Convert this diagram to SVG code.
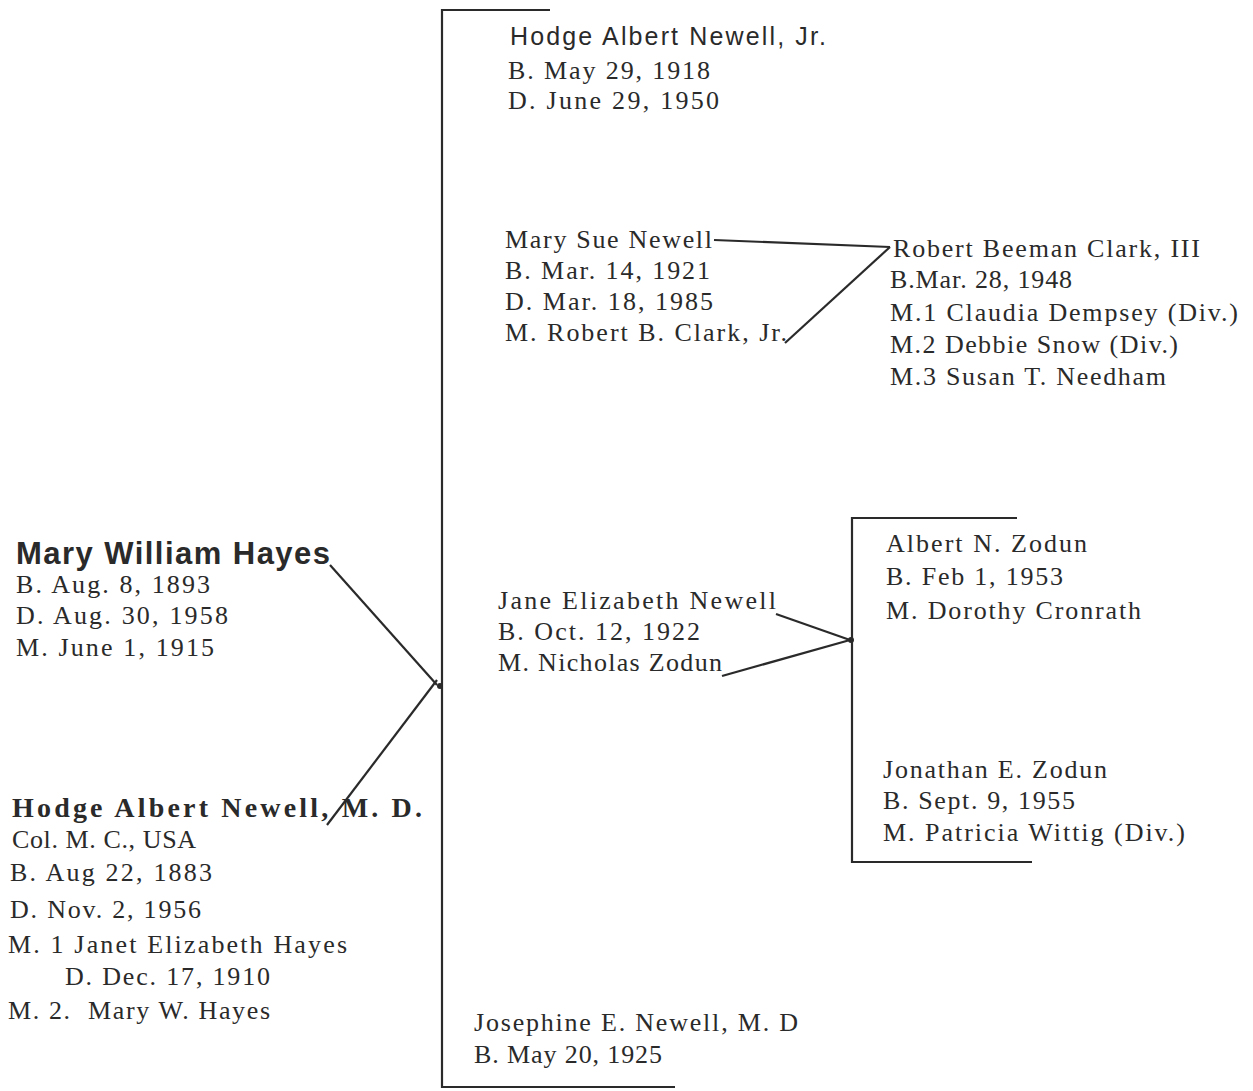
<svg xmlns="http://www.w3.org/2000/svg" width="1253" height="1091" viewBox="0 0 1253 1091">
<style>
text{font-family:"Liberation Serif","Times New Roman",serif;font-size:26px;fill:#2a2a2a}
.sans{font-family:"Liberation Sans",Arial,sans-serif}
.jr{font-size:25px}
.big{font-size:31px;font-weight:bold}
.bold{font-size:28px;font-weight:bold}
.line{stroke:#2a2a2a;stroke-width:2.2;fill:none}
</style>
<rect width="1253" height="1091" fill="#ffffff"/>
<g id="connectors">
<path class="line" d="M550,10 L442,10 L442,1087 L675,1087"/>
<path class="line" d="M330,565 L437,685"/>
<path class="line" d="M327,825 L437,680"/>
<circle cx="440" cy="686" r="3" fill="#2a2a2a"/>
<path class="line" d="M714,240 L890,247"/>
<path class="line" d="M890,247 L785,343"/>
<path class="line" d="M776,614 L850,640"/>
<path class="line" d="M722,676 L850,640"/>
<circle cx="851" cy="640" r="3" fill="#2a2a2a"/>
<path class="line" d="M1017,518 L852,518 L852,862 L1032,862"/>
</g>
<g id="hodge-jr">
<text class="sans jr" x="510" y="45" textLength="316" lengthAdjust="spacing">Hodge Albert Newell, Jr.</text>
<text x="508" y="79" textLength="202" lengthAdjust="spacing">B. May 29, 1918</text>
<text x="508" y="109" textLength="211" lengthAdjust="spacing">D. June 29, 1950</text>
</g>
<g id="mary-sue">
<text x="505" y="248" textLength="207" lengthAdjust="spacing">Mary Sue Newell</text>
<text x="505" y="279" textLength="205" lengthAdjust="spacing">B. Mar. 14, 1921</text>
<text x="505" y="310" textLength="208" lengthAdjust="spacing">D. Mar. 18, 1985</text>
<text x="505" y="341" textLength="282" lengthAdjust="spacing">M. Robert B. Clark, Jr.</text>
</g>
<g id="robert-clark">
<text x="893" y="257" textLength="307" lengthAdjust="spacing">Robert Beeman Clark, III</text>
<text x="890" y="288" textLength="182" lengthAdjust="spacing">B.Mar. 28, 1948</text>
<text x="890" y="321" textLength="348" lengthAdjust="spacing">M.1 Claudia Dempsey (Div.)</text>
<text x="890" y="353" textLength="288" lengthAdjust="spacing">M.2 Debbie Snow (Div.)</text>
<text x="890" y="385" textLength="276" lengthAdjust="spacing">M.3 Susan T. Needham</text>
</g>
<g id="mary-william-hayes">
<text class="sans big" x="16" y="564" textLength="314" lengthAdjust="spacing">Mary William Hayes</text>
<text x="16" y="593" textLength="194" lengthAdjust="spacing">B. Aug. 8, 1893</text>
<text x="16" y="624" textLength="212" lengthAdjust="spacing">D. Aug. 30, 1958</text>
<text x="16" y="656" textLength="198" lengthAdjust="spacing">M. June 1, 1915</text>
</g>
<g id="jane">
<text x="498" y="609" textLength="278" lengthAdjust="spacing">Jane Elizabeth Newell</text>
<text x="498" y="640" textLength="202" lengthAdjust="spacing">B. Oct. 12, 1922</text>
<text x="498" y="671" textLength="224" lengthAdjust="spacing">M. Nicholas Zodun</text>
</g>
<g id="albert-zodun">
<text x="886" y="552" textLength="201" lengthAdjust="spacing">Albert N. Zodun</text>
<text x="886" y="585" textLength="177" lengthAdjust="spacing">B. Feb 1, 1953</text>
<text x="886" y="619" textLength="255" lengthAdjust="spacing">M. Dorothy Cronrath</text>
</g>
<g id="jonathan-zodun">
<text x="883" y="778" textLength="224" lengthAdjust="spacing">Jonathan E. Zodun</text>
<text x="883" y="809" textLength="192" lengthAdjust="spacing">B. Sept. 9, 1955</text>
<text x="883" y="841" textLength="302" lengthAdjust="spacing">M. Patricia Wittig (Div.)</text>
</g>
<g id="hodge-md">
<text class="bold" x="12" y="817" textLength="410" lengthAdjust="spacing">Hodge Albert Newell, M. D.</text>
<text x="12" y="848" textLength="184" lengthAdjust="spacing">Col. M. C., USA</text>
<text x="10" y="881" textLength="202" lengthAdjust="spacing">B. Aug 22, 1883</text>
<text x="10" y="918" textLength="191" lengthAdjust="spacing">D. Nov. 2, 1956</text>
<text x="8" y="953" textLength="339" lengthAdjust="spacing">M. 1 Janet Elizabeth Hayes</text>
<text x="65" y="985" textLength="205" lengthAdjust="spacing">D. Dec. 17, 1910</text>
<text x="8" y="1019" xml:space="preserve" textLength="262" lengthAdjust="spacing">M. 2.  Mary W. Hayes</text>
</g>
<g id="josephine">
<text x="474" y="1031" textLength="324" lengthAdjust="spacing">Josephine E. Newell, M. D</text>
<text x="474" y="1063" textLength="188" lengthAdjust="spacing">B. May 20, 1925</text>
</g>
</svg>
